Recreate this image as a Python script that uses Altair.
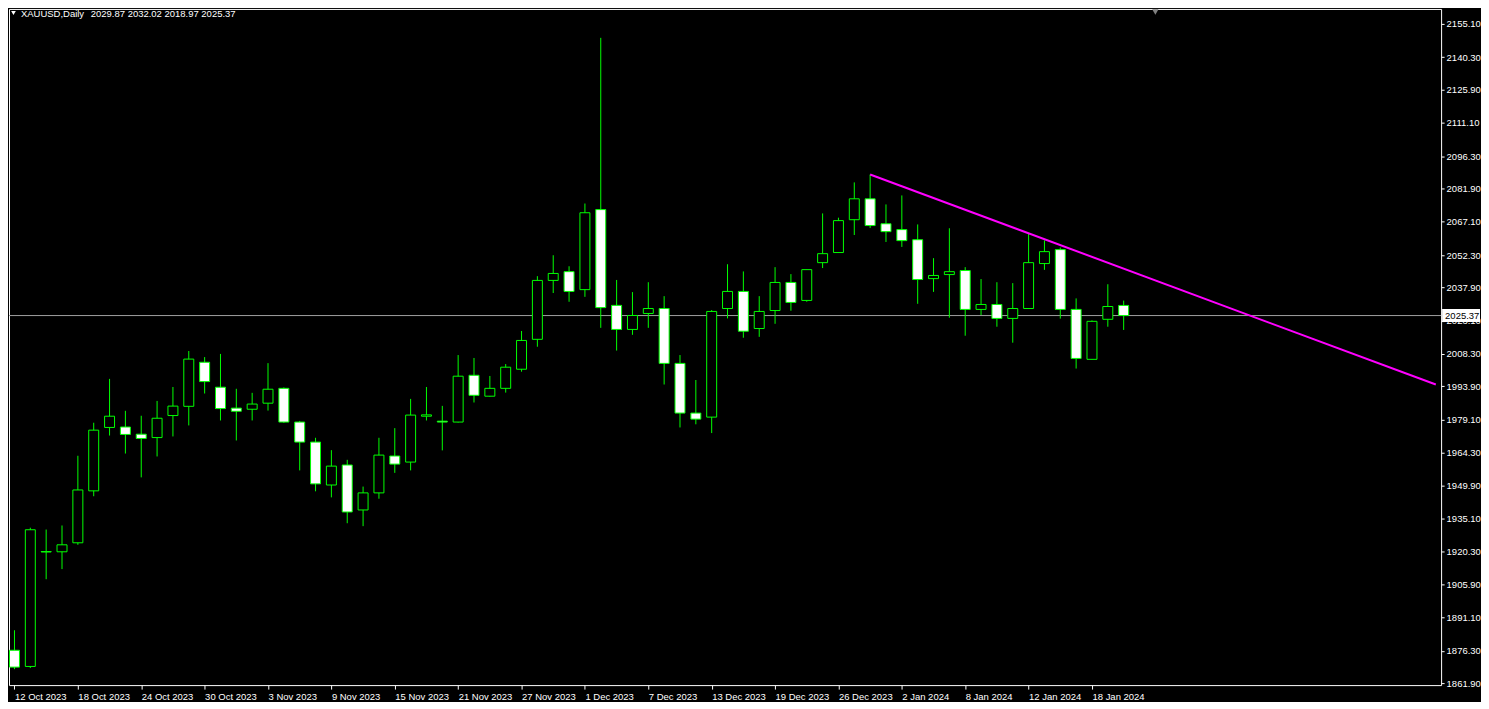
import altair as alt
import pandas as pd

# ---------------- data ----------------
opens = [1876.5, 1869.3, 1920.4, 1920.3, 1924.3, 1947.4, 1975.6, 1975.8, 1972.6, 1971.1,
         1980.9, 1985.0, 2004.6, 1993.5, 1984.2, 1983.7, 1986.4, 1993.0, 1978.0, 1969.1,
         1950.0, 1958.9, 1938.9, 1946.5, 1962.9, 1960.2, 1980.6, 1978.4, 1978.0, 1998.8,
         1989.5, 1993.0, 2001.5, 2014.8, 2041.0, 2044.9, 2036.9, 2072.5, 2029.9, 2019.2,
         2026.3, 2028.5, 2004.1, 1982.0, 1980.2, 2028.5, 2036.1, 2019.6, 2027.6, 2040.1,
         2032.1, 2048.9, 2053.4, 2068.0, 2077.3, 2066.2, 2063.6, 2059.1, 2041.8, 2043.6,
         2045.4, 2028.1, 2030.3, 2024.1, 2028.5, 2048.5, 2054.7, 2028.1, 2005.9, 2023.7,
         2029.87]
highs = [1885.4, 1931.0, 1930.2, 1932.0, 1963.0, 1977.7, 1997.2, 1983.0, 1980.8, 1987.4,
         1993.6, 2009.6, 2006.9, 2008.3, 1992.8, 1991.0, 2004.2, 1993.4, 1978.5, 1971.0,
         1965.5, 1961.2, 1949.3, 1971.0, 1975.3, 1988.3, 1993.6, 1985.2, 2007.8, 2006.5,
         1998.5, 2003.8, 2018.5, 2042.9, 2052.2, 2047.3, 2075.2, 2148.9, 2041.2, 2035.8,
         2040.2, 2034.0, 2007.8, 1996.7, 2027.8, 2048.2, 2045.0, 2034.0, 2046.9, 2043.8,
         2045.8, 2070.8, 2068.9, 2084.6, 2088.1, 2074.8, 2078.8, 2065.9, 2050.9, 2064.2,
         2046.9, 2041.6, 2040.2, 2039.8, 2062.1, 2058.8, 2055.6, 2033.0, 2023.2, 2039.3,
         2032.02]
lows = [1868.1, 1868.6, 1908.1, 1912.6, 1923.4, 1945.0, 1972.0, 1964.0, 1953.4, 1962.7,
        1971.6, 1976.5, 1990.7, 1978.7, 1969.8, 1978.7, 1983.1, 1977.6, 1956.5, 1947.2,
        1944.5, 1933.0, 1931.7, 1943.9, 1955.4, 1956.5, 1978.7, 1965.4, 1977.8, 1986.7,
        1989.3, 1991.1, 2000.4, 2011.5, 2035.4, 2031.5, 2033.7, 2019.9, 2009.8, 2016.8,
        2019.9, 1994.7, 1975.6, 1977.0, 1973.1, 2024.1, 2015.5, 2015.9, 2021.7, 2027.5,
        2031.5, 2046.5, 2053.4, 2061.2, 2064.3, 2058.1, 2055.9, 2030.6, 2035.9, 2024.4,
        2016.4, 2025.6, 2020.4, 2013.3, 2028.5, 2045.7, 2024.0, 2001.8, 2005.9, 2020.4,
        2018.97]
closes = [1869.0, 1930.1, 1920.2, 1923.4, 1947.8, 1974.4, 1980.6, 1972.5, 1970.7, 1979.7,
          1985.1, 2006.0, 1996.0, 1984.0, 1982.8, 1986.0, 1992.6, 1978.0, 1969.1, 1950.5,
          1958.4, 1938.0, 1946.5, 1963.3, 1959.3, 1981.1, 1981.2, 1978.0, 1998.4, 1989.9,
          1993.0, 2002.4, 2014.3, 2041.0, 2044.1, 2036.1, 2071.1, 2028.9, 2019.2, 2025.4,
          2028.5, 2004.1, 1982.0, 1979.3, 2027.2, 2036.1, 2018.4, 2027.2, 2040.1, 2031.2,
          2045.8, 2052.9, 2067.6, 2077.3, 2065.4, 2062.7, 2058.7, 2041.4, 2043.2, 2044.9,
          2028.1, 2030.3, 2024.1, 2028.5, 2048.9, 2053.8, 2028.1, 2006.3, 2022.8, 2029.4,
          2025.37]

tick_bars = [0, 4, 8, 12, 16, 20, 24, 28, 32, 36, 40, 44, 48, 52, 56, 60, 64, 68]
tick_labels = ["12 Oct 2023", "18 Oct 2023", "24 Oct 2023", "30 Oct 2023", "3 Nov 2023",
               "9 Nov 2023", "15 Nov 2023", "21 Nov 2023", "27 Nov 2023", "1 Dec 2023",
               "7 Dec 2023", "13 Dec 2023", "19 Dec 2023", "26 Dec 2023", "2 Jan 2024",
               "8 Jan 2024", "12 Jan 2024", "18 Jan 2024"]
price_ticks = [2155.10, 2140.30, 2125.90, 2111.10, 2096.30, 2081.90, 2067.10, 2052.30,
               2037.90, 2023.10, 2008.30, 1993.90, 1979.10, 1964.30, 1949.90, 1935.10,
               1920.30, 1905.90, 1891.10, 1876.30, 1861.90]

trend_bars = [54.0, 89.7]
trend_prices = [2088.1, 1994.7]

symbol = "XAUUSD,Daily"
shift_marker_bar = [72]

# ---------------- layout ----------------
W, H = 1436, 678
FONT = "Liberation Sans"
FS = 9.5
GREEN = "#00ff00"

n = len(opens)
df = pd.DataFrame({"i": list(range(n)), "open": opens, "high": highs,
                   "low": lows, "close": closes})
df["bear"] = df["close"] < df["open"]

last_close = closes[-1]
price_df = pd.DataFrame({"price": [last_close], "label": [f"{last_close:.2f}"]})
trend_df = pd.DataFrame({"ti": trend_bars, "tp": trend_prices})
head_df = pd.DataFrame({
    "name": [symbol],
    "ohlc": [f"{opens[-1]:.2f} {highs[-1]:.2f} {lows[-1]:.2f} {closes[-1]:.2f}"],
})
shift_df = pd.DataFrame({"i": shift_marker_bar})

x_start = -0.5 / 16
x_scale = alt.Scale(domain=[x_start, x_start + W / 16], nice=False, zero=False)
y_scale = alt.Scale(domain=[1861.0, 2161.75], nice=False, zero=False)

label_arr = "[" + ",".join(f"'{s}'" for s in tick_labels) + "]"

x_axis = alt.Axis(values=tick_bars, tickCount=len(tick_bars),
                  labelExpr=f"{label_arr}[round(datum.value/4)]",
                  orient="bottom", domain=False, grid=False, ticks=True, tickSize=4,
                  tickColor="white", labelColor="white", labelFont=FONT, labelFontSize=FS,
                  labelAlign="left", labelBaseline="top", labelPadding=2,
                  labelOverlap=False, labelFlush=False, title=None)
y_axis = alt.Axis(values=price_ticks, tickCount=len(price_ticks), format=".2f",
                  orient="right", domain=False,
                  grid=False, tickSize=3, tickColor="white", labelColor="white",
                  labelFont=FONT, labelFontSize=FS, labelPadding=2, labelOverlap=False,
                  labelFlush=False, title=None)

base = alt.Chart(df)

wicks = base.mark_rule(color=GREEN, strokeWidth=1, clip=True).encode(
    x=alt.X("i:Q", scale=x_scale, axis=x_axis),
    y=alt.Y("low:Q", scale=y_scale, axis=y_axis),
    y2="high:Q",
)

bodies = base.mark_bar(width=10, stroke=GREEN, strokeWidth=1, clip=True).encode(
    x=alt.X("i:Q", scale=x_scale),
    y=alt.Y("open:Q", scale=y_scale),
    y2="close:Q",
    fill=alt.condition("datum.bear", alt.value("white"), alt.value("black")),
)

price_line = alt.Chart(price_df).mark_rule(color="#a0a0a0", strokeWidth=1).encode(
    y=alt.Y("price:Q", scale=y_scale)
)

trend = alt.Chart(trend_df).mark_line(color="#ff00ff", strokeWidth=2, clip=True).encode(
    x=alt.X("ti:Q", scale=x_scale),
    y=alt.Y("tp:Q", scale=y_scale),
)

price_box = alt.Chart(price_df).mark_point(
    shape="M-1,-0.34L1,-0.34L1,0.34L-1,0.34Z", size=1444, filled=True,
    fill="white", opacity=1, strokeWidth=0,
).encode(x=alt.value(W + 20), y=alt.Y("price:Q", scale=y_scale))

price_text = alt.Chart(price_df).mark_text(
    align="left", baseline="middle", color="black", font=FONT, fontSize=FS
).encode(x=alt.value(W + 4), y=alt.Y("price:Q", scale=y_scale), text="label:N")

head_tri = alt.Chart(head_df).mark_point(
    shape="triangle-down", size=22, filled=True, fill="white", opacity=1, strokeWidth=0
).encode(x=alt.value(4.5), y=alt.value(4))

head_name = alt.Chart(head_df).mark_text(
    align="left", baseline="middle", color="white", font=FONT, fontSize=FS
).encode(x=alt.value(12), y=alt.value(5), text="name:N")

head_ohlc = alt.Chart(head_df).mark_text(
    align="left", baseline="middle", color="white", font=FONT, fontSize=FS
).encode(x=alt.value(82), y=alt.value(5), text="ohlc:N")

shift_mark = alt.Chart(shift_df).mark_point(
    shape="triangle-down", size=40, filled=True, fill="#808080", opacity=1, strokeWidth=0
).encode(x=alt.X("i:Q", scale=x_scale), y=alt.value(3))

chart = alt.layer(
    price_line, wicks, bodies, trend, price_box, price_text,
    head_tri, head_name, head_ohlc, shift_mark,
).properties(
    width=W, height=H, padding=0, background="black"
).configure_view(
    stroke="white", strokeWidth=1
)

chart.save("out.html", embed_options={"renderer": "svg", "actions": False})
